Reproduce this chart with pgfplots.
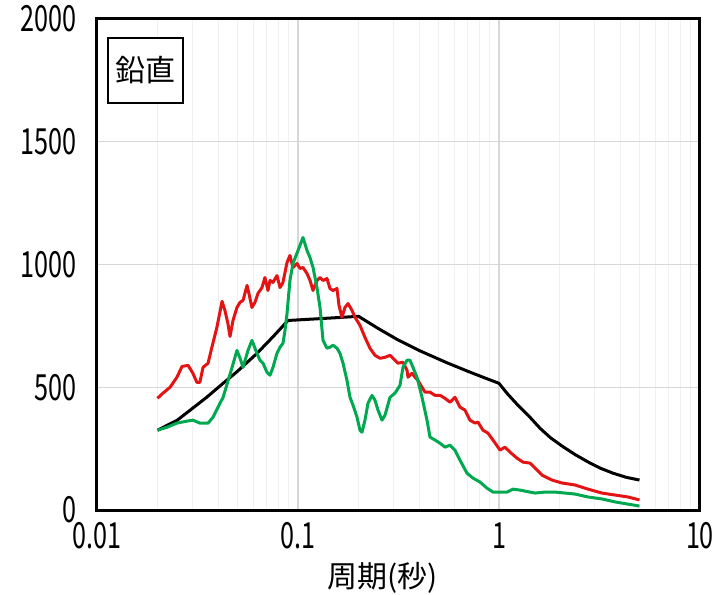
\documentclass[border=0pt]{standalone}
\usepackage{fontspec}
\usepackage{graphicx}
\usepackage{pgfplots}
\pgfplotsset{compat=1.18}
\setmainfont{Noto Sans CJK JP}
\newcommand\nar[1]{\scalebox{0.7}[1]{#1}}
\definecolor{cred}{RGB}{228,20,20}
\definecolor{cgreen}{RGB}{0,168,80}
\definecolor{gmaj}{RGB}{215,215,215}
\definecolor{gmin}{RGB}{240,240,240}
\begin{document}
\fontsize{15bp}{18bp}\selectfont
\begin{tikzpicture}
\path[use as bounding box] (-48.5bp,-42.5bp) rectangle (309.5bp,255bp);
\begin{axis}[
  at={(0,0)}, anchor=south west,
  scale only axis, width=301.5bp, height=245.5bp,
  xmode=log, xmin=0.01, xmax=10, ymin=0, ymax=2000,
  xtick={0.01,0.1,1,10},
  xticklabels={\nar{0.01},\nar{0.1},\nar{1},\nar{10}},
  ytick={0,500,1000,1500,2000},
  yticklabels={\nar{0},\nar{500},\nar{1000},\nar{1500},\nar{2000}},
  major tick length=0pt, minor tick length=0pt,
  xmajorgrids, ymajorgrids, xminorgrids,
  major grid style={gmaj, line width=0.6bp},
  minor grid style={gmin, line width=0.5bp},
  axis line style={black, line width=1.5bp},
  tick label style={font=\fontsize{18bp}{20bp}\selectfont},
  yticklabel style={xshift=-5bp},
  xticklabel style={yshift=-1bp},
  xlabel={周期(秒)},
  xlabel style={at={(rel axis cs:0.474,0)}, anchor=center, yshift=-34bp, font=\fontsize{15bp}{17bp}\selectfont},
  clip=false,
]
\addplot[black, line width=1.5bp, line join=round] coordinates {
(0.02,325) (0.025,365) (0.029,406) (0.035,458) (0.0424,516) (0.05,565) (0.0625,638) (0.075,705) (0.0892,772)
(0.12,778) (0.16,784) (0.2,789)
(0.25,740) (0.311,695) (0.4,650) (0.55,600) (0.7,565) (0.85,538) (1.0,516)
(1.1,474) (1.2,440) (1.27,419) (1.4,385) (1.6,333) (1.8,295) (2.08,258) (2.4,225) (2.84,191) (3.2,170) (3.69,150) (4.3,133) (5.0,122)
};
\addplot[cred, line width=1.5bp, line join=round] coordinates {
(0.0200,455) (0.0213,476) (0.0231,500) (0.0250,541) (0.0265,585) (0.0284,589) (0.0300,557) (0.0314,520)
(0.0325,520) (0.0337,581) (0.0357,598) (0.0373,663) (0.0395,744) (0.0419,850) (0.0433,813) (0.0448,760)
(0.0459,707) (0.0475,772) (0.0497,825) (0.0515,846) (0.0533,854) (0.0558,915) (0.0570,882) (0.0590,825)
(0.0611,846) (0.0632,882) (0.0662,906) (0.0685,947) (0.0709,894) (0.0726,935) (0.0751,927) (0.0786,955)
(0.0814,906) (0.0842,927) (0.0882,1008) (0.0912,1037) (0.0944,988) (0.0989,1004) (0.1023,984) (0.1059,988)
(0.1109,963) (0.1148,935) (0.1188,894) (0.1243,935) (0.1287,947) (0.1332,935) (0.1394,943) (0.1443,902)
(0.1494,894) (0.1563,902) (0.1600,833) (0.1655,785) (0.1713,825) (0.1774,841) (0.1857,813) (0.1922,785)
(0.2035,752) (0.2154,703) (0.2281,659) (0.2416,630) (0.2559,618) (0.2709,622) (0.2870,630) (0.3039,610)
(0.3144,598) (0.3330,602) (0.3486,569) (0.3527,541) (0.3692,557) (0.3820,541) (0.3954,528) (0.4140,500)
(0.4284,480) (0.4537,480) (0.4804,467) (0.5087,467) (0.5387,455) (0.5704,439) (0.6040,459) (0.6397,419)
(0.6773,407) (0.7173,366) (0.7595,354) (0.7860,358) (0.8325,325) (0.8816,313) (0.9335,285) (1.012,244)
(1.071,256) (1.134,236) (1.229,211) (1.316,195) (1.427,191) (1.511,171) (1.637,142) (1.835,122)
(2.058,110) (2.388,102) (2.773,85) (3.254,69) (3.777,61) (4.383,53) (5.000,41)
};
\addplot[cgreen, line width=1.5bp, line join=round] coordinates {
(0.0200,325) (0.0223,337) (0.0250,354) (0.0280,362) (0.0300,366) (0.0325,354) (0.0357,354) (0.0378,378)
(0.0400,419) (0.0424,459) (0.0448,524) (0.0470,581) (0.0497,650) (0.0515,618) (0.0533,581) (0.0564,650)
(0.0590,691) (0.0625,638) (0.0647,610) (0.0670,598) (0.0701,561) (0.0726,549) (0.0751,581) (0.0786,638)
(0.0814,663) (0.0842,679) (0.0862,732) (0.0882,801) (0.0912,935) (0.0944,1004) (0.1000,1057) (0.1059,1110)
(0.1109,1057) (0.1148,1028) (0.1188,988) (0.1243,906) (0.1287,825) (0.1332,691) (0.1394,659) (0.1443,663)
(0.1494,671) (0.1563,659) (0.1618,638) (0.1675,598) (0.1753,528) (0.1815,459) (0.1878,427) (0.1966,378)
(0.2035,325) (0.2082,317) (0.2154,366) (0.2230,435) (0.2335,467) (0.2416,447) (0.2500,407) (0.2618,366)
(0.2709,386) (0.2870,459) (0.3039,476) (0.3217,508) (0.3330,581) (0.3486,610) (0.3608,610) (0.3734,581)
(0.3908,541) (0.4140,459) (0.4384,366) (0.4537,297) (0.4804,285) (0.5087,272) (0.5387,256) (0.5704,264)
(0.6040,244) (0.6397,203) (0.6930,150) (0.7422,130) (0.8045,114) (0.8716,89) (0.9335,73) (1.012,73)
(1.096,73) (1.174,85) (1.272,81) (1.427,73) (1.511,69) (1.694,73) (1.899,73) (2.130,69)
(2.388,65) (2.773,53) (3.254,45) (3.777,33) (4.383,24) (5.000,16)
};
\node[draw=black, line width=0.8bp, minimum width=37.5bp, minimum height=32.5bp, inner sep=0pt, fill=white]
  at (rel axis cs:0.0804,0.895) {鉛直};
\end{axis}
\end{tikzpicture}
\end{document}
